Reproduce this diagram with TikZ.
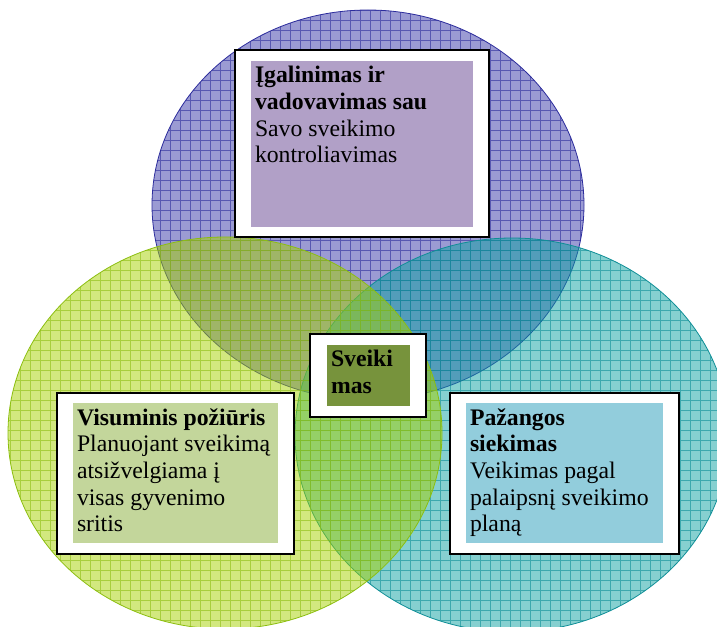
\documentclass[tikz,border=0pt]{standalone}
\usepackage{fontspec}
\setmainfont{Liberation Serif}
\usepackage{xcolor}
\definecolor{venn-blue}{HTML}{3737A7}
\definecolor{venn-blue-line}{HTML}{2C2C9C}
\definecolor{venn-green}{HTML}{A5D100}
\definecolor{venn-green-line}{HTML}{8CBE10}
\definecolor{venn-teal}{HTML}{0DA1A1}
\definecolor{venn-teal-line}{HTML}{0E8E96}
\definecolor{venn-lilac}{HTML}{B1A0C7}
\definecolor{venn-sage}{HTML}{C3D69B}
\definecolor{venn-olive}{HTML}{77933C}
\definecolor{venn-aqua}{HTML}{92CDDC}
\usepackage{tikz}

\tikzset{
  outerbox/.style 2 args={draw=black, line width=1.5pt, fill=white, inner sep=0pt,
    minimum width=#1*0.75pt, minimum height=#2*0.75pt},
  innerbox/.style n args={3}{fill=#1, inner sep=0pt,
    minimum width=#2*0.75pt, minimum height=#3*0.75pt},
  boxtext/.style={anchor=north west, align=left, inner xsep=3pt, inner ysep=4pt,
    font=\fontsize{17.8}{20}\selectfont},
}

\begin{document}
\begin{tikzpicture}[x=0.75pt, y=-0.75pt]

    \useasboundingbox (0,0) rectangle (717,627);

    % Top circle
    \begin{scope}
      \clip (368,205) ellipse (216 and 195);
      \fill[venn-blue, opacity=0.5] (0,0) rectangle (717,627);
      \draw[venn-blue-line, opacity=0.6, line width=0.6pt, step=7.5pt] (0,0) grid (717,627);
    \end{scope}
    \draw[venn-blue-line, line width=0.6pt] (368,205) ellipse (216 and 195);

    % Right circle
    \begin{scope}
      \clip (512,435) ellipse (217 and 197);
      \fill[venn-teal, opacity=0.5] (0,0) rectangle (717,627);
      \draw[venn-teal-line, opacity=0.6, line width=0.6pt, step=7.5pt] (0,0) grid (717,627);
    \end{scope}
    \draw[venn-teal-line, line width=0.6pt] (512,435) ellipse (217 and 197);

    % Left circle
    \begin{scope}
      \clip (225,433) ellipse (217 and 196);
      \fill[venn-green, opacity=0.5] (0,0) rectangle (717,627);
      \draw[venn-green-line, opacity=0.6, line width=0.6pt, step=7.5pt] (0,0) grid (717,627);
    \end{scope}
    \draw[venn-green-line, line width=0.6pt] (225,433) ellipse (217 and 196);

    % Top box
    \node[outerbox={254}{187}] (topbox) at (362,143.5) {};
    \node[innerbox={venn-lilac}{222}{166}] (topfill) at (362,144) {};
    \node[boxtext] (toptext) at (topfill.north west)
      {\textbf{Įgalinimas ir}\\\textbf{vadovavimas sau}\\Savo sveikimo\\kontroliavimas};

    % Left box
    \node[outerbox={237}{161}] (leftbox) at (175.5,473.5) {};
    \node[innerbox={venn-sage}{205}{140}] (leftfill) at (175.5,473) {};
    \node[boxtext] (lefttext) at (leftfill.north west)
      {\textbf{Visuminis požiūris}\\Planuojant sveikimą\\atsižvelgiama į\\visas gyvenimo\\sritis};

    % Right box
    \node[outerbox={229}{161}] (rightbox) at (564.5,473.5) {};
    \node[innerbox={venn-aqua}{197}{140}] (rightfill) at (564.5,473) {};
    \node[boxtext] (righttext) at (rightfill.north west)
      {\textbf{Pažangos}\\\textbf{siekimas}\\Veikimas pagal\\palaipsnį sveikimo\\planą};

    % Centre box
    \node[outerbox={116}{83}] (midbox) at (368,375.5) {};
    \node[innerbox={venn-olive}{83}{61}] (midfill) at (368.5,375.5) {};
    \node[boxtext] (midtext) at (midfill.north west)
      {\textbf{Sveiki}\\\textbf{mas}};

\end{tikzpicture}
\end{document}
